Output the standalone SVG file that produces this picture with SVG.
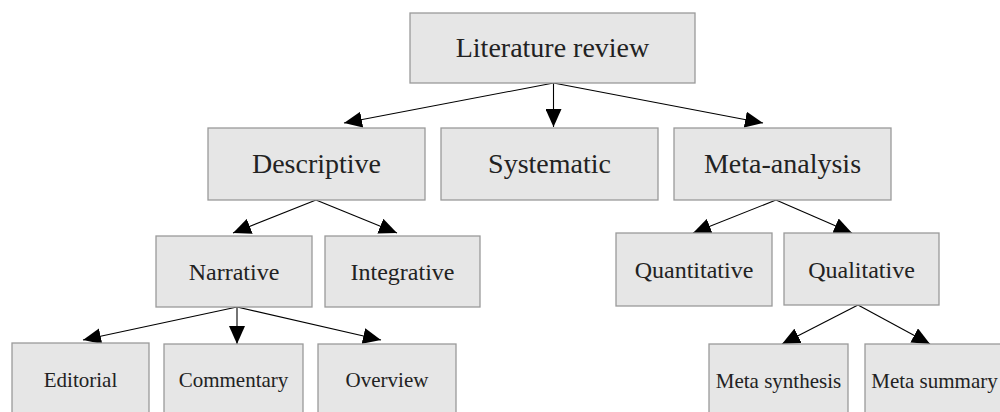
<svg xmlns="http://www.w3.org/2000/svg" width="1000" height="412" viewBox="0 0 1000 412">
<style>
.box{fill:#e6e6e6;stroke:#9a9a9a;stroke-width:1.3}
.t{font-family:"Liberation Serif","Times New Roman",serif;fill:#222;text-anchor:middle}
.l1{font-size:28px}
.l3{font-size:24px}
.l4{font-size:21px}
.e{stroke:#000;stroke-width:1.1;fill:none;marker-end:url(#ah)}
</style>
<defs>
<marker id="ah" markerUnits="userSpaceOnUse" markerWidth="18" markerHeight="16" refX="18" refY="8" orient="auto" viewBox="0 0 18 16">
<path d="M0,0 L18,8 L0,16 z" fill="#000"/>
</marker>
</defs>
<rect width="1000" height="412" fill="#fff"/>
<g id="connectors">
<path class="e" d="M553.5,83 L344,123"/>
<path class="e" d="M553.5,83 L553.5,127"/>
<path class="e" d="M553.5,83 L763,123"/>
<path class="e" d="M316,200 L233,233"/>
<path class="e" d="M316,200 L397,233"/>
<path class="e" d="M237,307 L83,340"/>
<path class="e" d="M237,307 L237,344"/>
<path class="e" d="M237,307 L381,340"/>
<path class="e" d="M776,200 L693,233"/>
<path class="e" d="M776,200 L852,233"/>
<path class="e" d="M858,305 L782,344"/>
<path class="e" d="M858,305 L930,344"/>
</g>
<g id="literature-review"><rect class="box" x="410" y="13" width="285" height="70"/><text class="t l1" x="552.5" y="57">Literature review</text></g>
<g id="descriptive"><rect class="box" x="208" y="128" width="217" height="72"/><text class="t l1" x="316.5" y="173">Descriptive</text></g>
<g id="systematic"><rect class="box" x="441" y="128" width="217" height="72"/><text class="t l1" x="549.5" y="173">Systematic</text></g>
<g id="meta-analysis"><rect class="box" x="674" y="128" width="217" height="72"/><text class="t l1" x="782.5" y="173">Meta-analysis</text></g>
<g id="narrative"><rect class="box" x="156" y="236" width="156" height="71"/><text class="t l3" x="234" y="280">Narrative</text></g>
<g id="integrative"><rect class="box" x="325" y="236" width="155" height="71"/><text class="t l3" x="402.5" y="280">Integrative</text></g>
<g id="quantitative"><rect class="box" x="616" y="233" width="156" height="73"/><text class="t l3" x="694" y="278">Quantitative</text></g>
<g id="qualitative"><rect class="box" x="784" y="233" width="155" height="72"/><text class="t l3" x="861.5" y="278">Qualitative</text></g>
<g id="editorial"><rect class="box" x="12" y="343" width="137" height="74"/><text class="t l4" x="80.5" y="387">Editorial</text></g>
<g id="commentary"><rect class="box" x="164" y="344" width="139" height="74"/><text class="t l4" x="233.5" y="387">Commentary</text></g>
<g id="overview"><rect class="box" x="318" y="344" width="138" height="74"/><text class="t l4" x="387" y="387">Overview</text></g>
<g id="meta-synthesis"><rect class="box" x="709" y="344" width="139" height="74"/><text class="t l4" x="778.5" y="388">Meta synthesis</text></g>
<g id="meta-summary"><rect class="box" x="865" y="344" width="139" height="74"/><text class="t l4" x="934.5" y="388">Meta summary</text></g>
</svg>
